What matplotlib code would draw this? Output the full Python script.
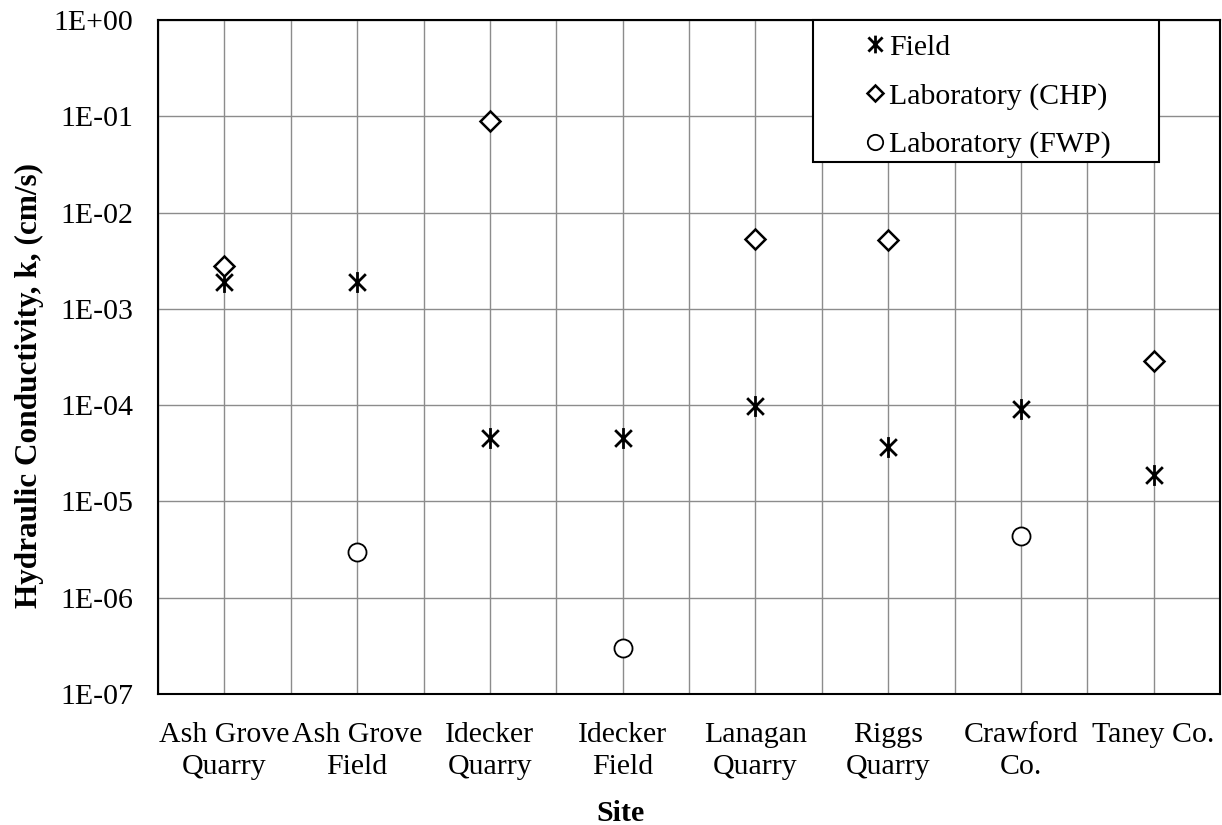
import matplotlib
matplotlib.use("Agg")
import matplotlib.pyplot as plt
from matplotlib.path import Path
from matplotlib.patches import Rectangle
import numpy as np

plt.rcParams['font.family'] = ['Liberation Serif', 'DejaVu Serif']

sites = ["Ash Grove\nQuarry", "Ash Grove\nField", "Idecker\nQuarry", "Idecker\nField",
         "Lanagan\nQuarry", "Riggs\nQuarry", "Crawford\nCo.", "Taney Co."]
field = [1.9e-3, 1.9e-3, 4.6e-5, 4.6e-5, 9.7e-5, 3.7e-5, 9.1e-5, 1.9e-5]
lab_chp = [2.8e-3, None, 8.9e-2, None, 5.3e-3, 5.2e-3, None, 2.9e-4]
lab_fwp = [None, 3.0e-6, None, 3.0e-7, None, None, 4.4e-6, None]

star = Path([(-1, -1), (1, 1), (-1, 1), (1, -1), (0, -1.25), (0, 1.25)],
            [Path.MOVETO, Path.LINETO, Path.MOVETO, Path.LINETO, Path.MOVETO, Path.LINETO])

W, H = 1222, 825
fig = plt.figure(figsize=(W/100, H/100), dpi=100)
ax = fig.add_axes([158/W, 1-694/H, (1220-158)/W, (694-20)/H])

x = np.arange(len(sites))

def pts(vals):
    xs = [i for i, v in enumerate(vals) if v is not None]
    ys = [v for v in vals if v is not None]
    return xs, ys

xs, ys = pts(field)
ax.plot(xs, ys, linestyle='none', marker=star, markersize=15, markeredgewidth=2,
        color='black', label='Field', zorder=3)
xs, ys = pts(lab_chp)
ax.plot(xs, ys, linestyle='none', marker='D', markersize=10, markeredgewidth=1.8,
        markerfacecolor='white', markeredgecolor='black', label='Laboratory (CHP)', zorder=3)
xs, ys = pts(lab_fwp)
ax.plot(xs, ys, linestyle='none', marker='o', markersize=13, markeredgewidth=1.3,
        markerfacecolor='white', markeredgecolor='black', label='Laboratory (FWP)', zorder=3)

ax.set_yscale('log')
ax.set_ylim(1e-7, 1)
ax.set_xlim(-0.5, len(sites) - 0.5)
ax.set_yticks([10.0**k for k in range(-7, 1)])
ax.set_yticklabels([f"1E{k:+03d}" if k >= 0 else f"1E-{abs(k):02d}" for k in range(-7, 1)])
ax.yaxis.set_minor_locator(matplotlib.ticker.NullLocator())
ax.set_xticks(x)
ax.set_xticklabels(sites, linespacing=1.3)
ax.set_xticks(np.arange(-0.5, len(sites)), minor=True)
ax.tick_params(axis='both', which='both', length=0, labelsize=21.5)
ax.tick_params(axis='x', pad=20)
ax.tick_params(axis='y', pad=18)

ax.grid(True, which='major', axis='both', color='#8c8c8c', linewidth=1)
ax.grid(True, which='minor', axis='x', color='#8c8c8c', linewidth=1)
ax.set_axisbelow(True)
for s in ax.spines.values():
    s.set_color('black')
    s.set_linewidth(1.5)

ax.set_ylabel('Hydraulic Conductivity, k, (cm/s)', fontsize=22.5, fontweight='bold')
ax.yaxis.set_label_coords((44-158)/1062, (694-385)/674)
ax.set_xlabel('Site', fontsize=21.5, fontweight='bold')
ax.xaxis.label.set_verticalalignment('top')
ax.xaxis.set_label_coords((620-158)/1062, -(800-694)/674)

# legend content with a separately drawn frame
frame = Rectangle((813/W, 1-162/H), (1159-813)/W, (162-20)/H, transform=fig.transFigure,
                  facecolor='white', edgecolor='black', linewidth=1.5, zorder=4, clip_on=False)
ax.add_patch(frame)
leg = ax.legend(loc='upper left', bbox_to_anchor=((853-158)/1062, 1.0 - 5/674), fontsize=21.5,
                frameon=False, handletextpad=0.0, handlelength=0.9,
                borderpad=0.3, labelspacing=0.72, borderaxespad=0, markerscale=0.85)
leg.set_zorder(5)

fig.savefig('out.png', dpi=100)
